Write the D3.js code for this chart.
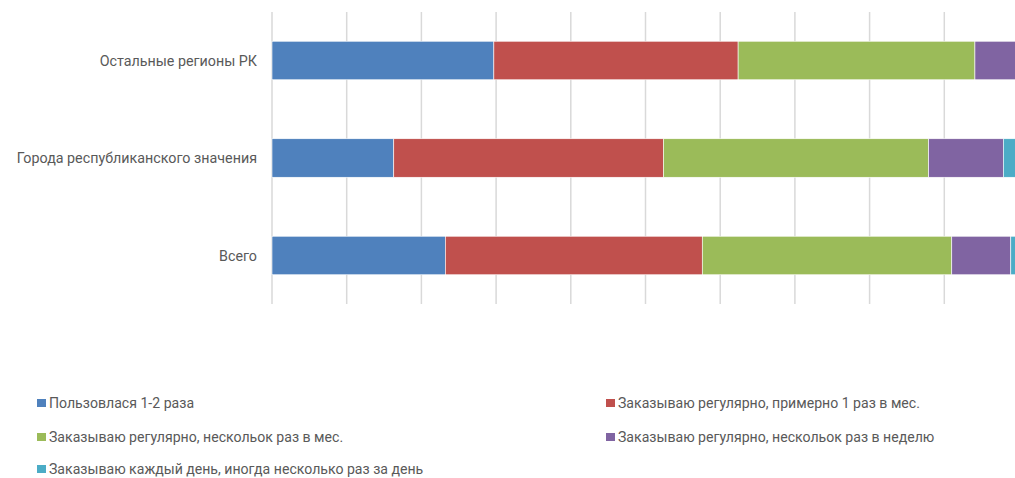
<!DOCTYPE html>
<html>
<head>
<meta charset="utf-8">
<script src="https://cdn.jsdelivr.net/npm/d3@7"></script>
<style>
  body { margin: 0; background: #fff; }
  text { font-family: Roboto, "Liberation Sans", sans-serif; fill: #595959; }
</style>
</head>
<body>
<svg id="chart" width="1015" height="478"></svg>
<script>
// categories, top to bottom
var categories = ["Остальные регионы РК", "Города республиканского значения", "Всего"];

var seriesNames = [
  "Пользовлася 1-2 раза",
  "Заказываю регулярно, примерно 1 раз в мес.",
  "Заказываю регулярно, нескольок раз в мес.",
  "Заказываю регулярно, нескольок раз в неделю",
  "Заказываю каждый день, иногда несколько раз за день"
];
var seriesColors = ["#4f81bd", "#c0504d", "#9bbb59", "#8064a2", "#4bacc6"];

// shares (%) per category, same order as categories
var s1 = [29.7, 16.3, 23.2];
var s2 = [32.7, 36.1, 34.4];
var s3 = [31.7, 35.5, 33.4];
var s4 = [5.5, 10.0, 7.9];
var s5 = [0.4, 2.1, 1.1];

var xTicks = [0, 10, 20, 30, 40, 50, 60, 70, 80, 90, 100];

var svg = d3.select("#chart");
var condense = 0.94;

var x = d3.scaleLinear().domain([0, 100]).range([272, 1019]);
var y = d3.scaleBand().domain(categories).range([12, 304]).paddingInner(0.605).paddingOuter(0.3);

// gridlines
svg.append("g").selectAll("line")
  .data(xTicks)
  .enter().append("line")
    .attr("x1", function(d) { return x(d); })
    .attr("x2", function(d) { return x(d); })
    .attr("y1", 12)
    .attr("y2", 304)
    .style("stroke", "#d9d9d9")
    .style("stroke-width", 1.5);

// stacked bars
var rows = categories.map(function(c, i) {
  return { cat: c, v: [s1[i], s2[i], s3[i], s4[i], s5[i]] };
});
var stack = d3.stack().keys([0, 1, 2, 3, 4]).value(function(d, k) { return d.v[k]; });
var layers = stack(rows);

svg.append("g").selectAll("g")
  .data(layers)
  .enter().append("g")
    .style("fill", function(d, i) { return seriesColors[i]; })
  .selectAll("rect")
    .data(function(d) { return d; })
    .enter().append("rect")
      .attr("x", function(d) { return x(d[0]); })
      .attr("width", function(d) { return x(d[1]) - x(d[0]); })
      .attr("y", function(d) { return y(d.data.cat); })
      .attr("height", y.bandwidth())
      .style("stroke", "#fff")
      .style("stroke-width", 0.6);

// category labels
svg.append("g").selectAll("text")
  .data(categories)
  .enter().append("text")
    .attr("transform", function(d) {
      return "translate(257," + (y(d) + y.bandwidth() / 2) + ") scale(" + condense + ",1)";
    })
    .attr("text-anchor", "end")
    .attr("dy", "0.35em")
    .style("font-size", "15.2px")
    .text(function(d) { return d; });

// legend
var legendPos = [[37, 403], [606, 403], [37, 437], [606, 437], [37, 469]];
var legend = svg.append("g").selectAll("g")
  .data(seriesNames)
  .enter().append("g")
    .attr("transform", function(d, i) { return "translate(" + legendPos[i][0] + "," + legendPos[i][1] + ")"; });

legend.append("rect")
  .attr("x", 0).attr("y", -4)
  .attr("width", 9).attr("height", 8)
  .style("fill", function(d, i) { return seriesColors[i]; });

legend.append("text")
  .attr("transform", "translate(12,0) scale(" + condense + ",1)")
  .attr("dy", "0.35em")
  .style("font-size", "15px")
  .text(function(d) { return d; });
</script>
</body>
</html>
